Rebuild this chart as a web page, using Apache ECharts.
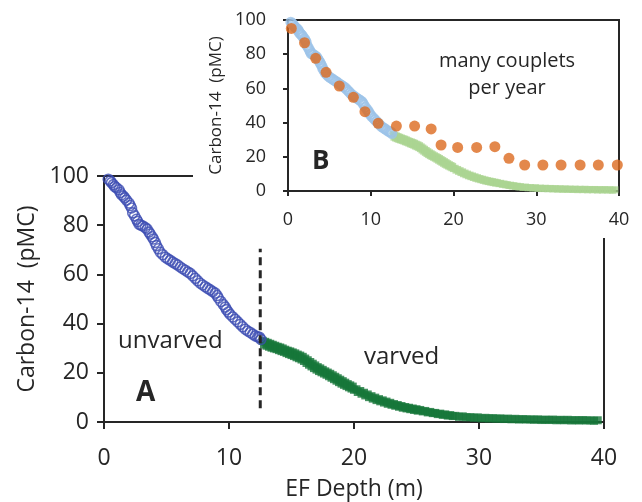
<!DOCTYPE html>
<html>
<head>
<meta charset="utf-8">
<script src="https://cdn.jsdelivr.net/npm/echarts@6/dist/echarts.min.js"></script>
<style>
html,body{margin:0;padding:0;background:#fff;}
#chart{width:642px;height:502px;}
</style>
</head>
<body>
<div id="chart"></div>
<script>
// ---- data (depth m, carbon-14 pMC) ----
const unvarved = [[0.34,98.7],[0.5,98.0],[0.6,97.3],[0.75,96.5],[0.86,95.7],[1.0,95.2],[1.2,94.4],[1.3,93.3],[1.4,92.4],[1.55,91.8],[1.66,91.1],[1.8,90.2],[2.0,89.0],[2.1,88.0],[2.2,87.0],[2.3,85.0],[2.45,83.8],[2.6,82.4],[2.7,81.5],[2.8,80.4],[2.95,80.0],[3.1,79.7],[3.3,79.0],[3.45,78.4],[3.6,77.2],[3.7,76.4],[3.85,75.3],[3.95,74.4],[4.1,73.0],[4.2,71.7],[4.35,70.4],[4.5,69.0],[4.7,68.0],[4.9,67.0],[5.1,66.3],[5.3,65.7],[5.5,65.0],[5.7,64.4],[5.9,63.8],[6.1,63.0],[6.3,62.3],[6.5,61.7],[6.7,61.0],[6.9,60.4],[7.1,59.4],[7.3,58.4],[7.5,57.4],[7.7,56.4],[7.9,55.7],[8.1,55.0],[8.3,54.3],[8.5,53.7],[8.7,53.0],[8.9,52.4],[9.05,51.4],[9.15,50.4],[9.35,49.0],[9.55,47.7],[9.7,46.7],[9.8,45.7],[9.95,44.7],[10.1,43.7],[10.3,42.7],[10.5,41.7],[10.7,40.7],[10.9,39.7],[11.1,38.7],[11.3,37.7],[11.5,37.0],[11.7,36.4],[11.9,35.7],[12.1,35.0],[12.3,34.6],[12.45,34.4],[12.55,33.6]];

const varved = [[12.7,33.0],[12.8,31.5],[12.9,32.6],[13.0,31.0],[13.1,32.2],[13.2,30.6],[13.3,31.8],[13.4,30.2],[13.5,31.4],[13.6,29.9],[13.7,31.0],[13.8,29.6],[13.9,30.6],[14.0,29.2],[14.1,30.3],[14.2,28.8],[14.3,29.9],[14.4,28.5],[14.5,29.4],[14.6,28.0],[14.7,29.0],[14.8,27.6],[14.9,28.7],[15.0,27.2],[15.1,28.3],[15.2,26.8],[15.3,27.9],[15.4,26.3],[15.5,27.4],[15.6,25.9],[15.7,27.0],[15.8,25.4],[15.9,26.5],[16.0,24.8],[16.1,25.8],[16.2,24.0],[16.3,25.1],[16.4,23.3],[16.5,24.4],[16.6,22.6],[16.7,23.7],[16.8,21.9],[16.9,23.0],[17.0,21.3],[17.1,22.3],[17.2,20.7],[17.3,21.8],[17.4,20.2],[17.5,21.2],[17.6,19.7],[17.7,20.6],[17.8,19.2],[17.9,20.1],[18.0,18.6],[18.1,19.6],[18.2,18.0],[18.3,19.0],[18.4,17.4],[18.5,18.4],[18.6,16.8],[18.7,17.8],[18.8,16.2],[18.9,17.2],[19.0,15.6],[19.1,16.6],[19.2,15.1],[19.3,16.0],[19.4,14.6],[19.5,15.4],[19.6,14.1],[19.7,14.9],[19.8,13.6],[19.9,14.4],[20.0,13.1],[20.2,13.3],[20.3,12.2],[20.5,12.6],[20.6,11.5],[20.8,11.9],[20.9,10.8],[21.1,11.2],[21.2,10.1],[21.4,10.5],[21.5,9.5],[21.7,9.9],[21.8,8.9],[22.0,9.3],[22.1,8.4],[22.3,8.8],[22.4,7.9],[22.6,8.3],[22.7,7.4],[22.9,7.8],[23.0,7.0],[23.2,7.3],[23.3,6.6],[23.5,6.9],[23.6,6.2],[23.8,6.5],[23.9,5.8],[24.1,6.1],[24.2,5.5],[24.4,5.8],[24.5,5.2],[24.7,5.5],[24.8,4.9],[25.0,5.2],[25.1,4.6],[25.3,4.9],[25.5,4.3],[25.7,4.5],[25.9,3.9],[26.1,4.1],[26.3,3.6],[26.5,3.7],[26.7,3.2],[26.9,3.4],[27.1,2.9],[27.3,3.1],[27.5,2.6],[27.7,2.8],[27.9,2.4],[28.1,2.5],[28.4,2.1],[28.7,2.3],[29.0,1.9],[29.3,2.0],[29.6,1.7],[29.9,1.9],[30.2,1.5],[30.5,1.7],[30.8,1.4],[31.1,1.6],[31.4,1.3],[31.7,1.5],[32.0,1.2],[32.3,1.4],[32.6,1.1],[32.9,1.3],[33.2,1.0],[33.5,1.2],[33.8,1.0],[34.1,1.1],[34.4,0.9],[34.7,1.1],[35.0,0.8],[35.3,1.0],[35.6,0.8],[35.9,1.0],[36.2,0.7],[36.5,0.9],[36.8,0.7],[37.1,0.9],[37.4,0.6],[37.7,0.8],[38.0,0.6],[38.3,0.8],[38.6,0.6],[38.9,0.7],[39.2,0.5],[39.5,0.7]];

const couplets = [[0.4,95.1],[2.0,86.7],[3.35,77.6],[4.6,69.4],[6.2,61.4],[7.9,54.8],[9.3,46.4],[10.9,39.6],[13.1,38.0],[15.3,38.0],[17.3,36.3],[18.5,26.9],[20.5,25.5],[22.8,25.5],[25.0,25.9],[26.7,19.1],[28.6,15.2],[30.8,15.2],[33.0,15.2],[35.3,15.2],[37.5,15.2],[39.8,15.2]];

const divider = [[12.5,5.6],[12.5,70.4]];

const depthRange = [0, 40], depthStep = 10;
const c14Range = [0, 100], c14Step = 20;
const yTitle = 'Carbon-14  (pMC)';
const xTitle = 'EF Depth (m)';

// ---- styling ----
const FONT = '"Open Sans", sans-serif';
const INK = '#262626';
const lineStyle = {color: INK, width: 2};

function mkAxis(grid, opts, inside, withLabel) {
  return Object.assign({
    type: 'value', gridIndex: grid,
    min: opts.range[0], max: opts.range[1], interval: opts.step,
    splitLine: {show: false},
    axisLine: {show: !inside, lineStyle: lineStyle},
    axisTick: {show: true, inside: inside, length: opts.tick, lineStyle: lineStyle},
    axisLabel: {show: withLabel, fontFamily: FONT, fontSize: opts.fs, color: INK, margin: opts.margin},
    z: opts.z || 0
  }, withLabel ? {name: opts.name, nameLocation: 'middle', nameGap: opts.gap,
     nameTextStyle: {fontFamily: FONT, fontSize: opts.nfs, color: INK}} : {});
}

const mainX = {range: depthRange, step: depthStep, tick: 7, fs: 23, margin: 25, name: xTitle, gap: 56, nfs: 23};
const mainY = {range: c14Range, step: c14Step, tick: 7, fs: 23, margin: 15, name: yTitle, gap: 60, nfs: 23};
const insX = {range: depthRange, step: depthStep, tick: 5, fs: 18, margin: 20, z: 11};
const insY = {range: c14Range, step: c14Step, tick: 5, fs: 18, margin: 22, name: yTitle, gap: 48, nfs: 17, z: 11};

const chart = echarts.init(document.getElementById('chart'), null, {renderer: 'canvas'});
chart.setOption({
  animation: false,
  backgroundColor: '#fff',
  grid: [
    {left: 104, top: 176, width: 500, height: 250, show: true, borderColor: INK, borderWidth: 2, z: 0},
    {left: 288, top: 20, width: 331, height: 171, show: true, borderColor: INK, borderWidth: 2, backgroundColor: '#fff', z: 11}
  ],
  xAxis: [
    mkAxis(0, mainX, false, true), mkAxis(0, mainX, true, false),
    mkAxis(1, insX, false, true), mkAxis(1, insX, true, false)
  ],
  yAxis: [
    mkAxis(0, mainY, false, true), mkAxis(0, mainY, true, false),
    mkAxis(1, insY, false, true), mkAxis(1, insY, true, false)
  ],
  graphic: [
    {type: 'rect', shape: {x: 193, y: 0, width: 449, height: 238}, style: {fill: '#fff'}, z: 10, silent: true},
    {type: 'text', left: 118, top: 329, z: 20, style: {text: 'unvarved', font: '24px ' + FONT, fill: INK}},
    {type: 'text', left: 364, top: 345, z: 20, style: {text: 'varved', font: '24px ' + FONT, fill: INK}},
    {type: 'text', left: 136, top: 379, z: 20, style: {text: 'A', font: 'bold 28px ' + FONT, fill: INK}},
    {type: 'text', left: 312, top: 149, z: 20, style: {text: 'B', font: 'bold 26px ' + FONT, fill: INK}},
    {type: 'text', z: 20, x: 507, y: 75, style: {text: 'many couplets\nper year', font: '20px ' + FONT, fill: INK, align: 'center', verticalAlign: 'middle', lineHeight: 27}}
  ],
  series: [
    {type: 'scatter', xAxisIndex: 0, yAxisIndex: 0, data: varved, symbol: 'rect', symbolSize: 8,
     itemStyle: {color: '#16773a'}, z: 2},
    {type: 'scatter', xAxisIndex: 0, yAxisIndex: 0, data: unvarved, symbol: 'circle', symbolSize: 10,
     itemStyle: {color: 'rgba(255,255,255,0)', borderColor: '#3d4db3', borderWidth: 1.6}, z: 3},
    {type: 'line', xAxisIndex: 0, yAxisIndex: 0, data: divider, symbol: 'none',
     lineStyle: {color: INK, width: 3, type: [8, 5]}, z: 4},
    {type: 'scatter', xAxisIndex: 2, yAxisIndex: 2, data: varved, symbol: 'rect', symbolSize: 7,
     itemStyle: {color: '#abd492'}, z: 12},
    {type: 'scatter', xAxisIndex: 2, yAxisIndex: 2, data: unvarved, symbol: 'circle', symbolSize: 9,
     itemStyle: {color: 'rgba(255,255,255,0)', borderColor: '#9cc3e8', borderWidth: 2}, z: 13},
    {type: 'scatter', xAxisIndex: 2, yAxisIndex: 2, data: couplets, symbol: 'circle', symbolSize: 11,
     itemStyle: {color: '#dc6a1f'}, z: 14}
  ]
});
</script>
</body>
</html>
